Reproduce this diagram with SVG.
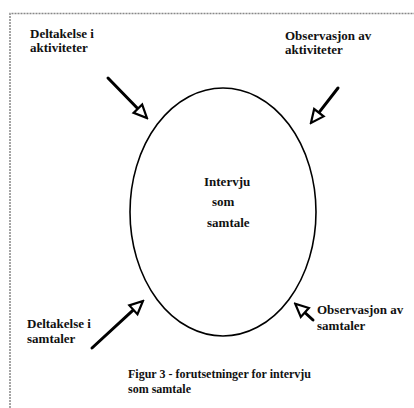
<svg xmlns="http://www.w3.org/2000/svg" width="414" height="408" viewBox="0 0 414 408">
<style>
.lbl{font-family:"Liberation Serif","Times New Roman",serif;font-weight:bold;font-size:13px;fill:#111}
.cap{font-family:"Liberation Serif","Times New Roman",serif;font-weight:bold;font-size:12px;fill:#111}
.arr{stroke:#000;stroke-width:3;fill:none;stroke-linecap:round;marker-end:url(#head)}
.frame{stroke:#888;stroke-width:1.5;fill:none;stroke-dasharray:2 1}
</style>
<defs>
<marker id="head" viewBox="-2 -8 17 16" refX="0" refY="0" markerWidth="17" markerHeight="16" markerUnits="userSpaceOnUse" orient="auto">
<path d="M0,-6 L13,0 L0,6 Z" fill="#fff" stroke="#000" stroke-width="2.2" stroke-linejoin="miter"/>
</marker>
</defs>
<rect width="414" height="408" fill="#fff"/>
<path class="frame" d="M10,408 L10,13.5 L414,13.5"/>
<g id="interview">
<ellipse cx="223" cy="212" rx="93" ry="124" fill="none" stroke="#000" stroke-width="1.6"/>
<text class="lbl" font-size="14" x="204" y="186">Intervju</text>
<text class="lbl" x="212" y="206">som</text>
<text class="lbl" x="207" y="227">samtale</text>
</g>
<g id="deltakelse-aktiviteter">
<text class="lbl" x="30" y="38">Deltakelse i</text>
<text class="lbl" x="30" y="52">aktiviteter</text>
</g>
<g id="observasjon-aktiviteter">
<text class="lbl" x="285" y="40">Observasjon av</text>
<text class="lbl" x="285" y="54">aktiviteter</text>
</g>
<g id="deltakelse-samtaler">
<text class="lbl" x="27" y="328">Deltakelse i</text>
<text class="lbl" x="27" y="343">samtaler</text>
</g>
<g id="observasjon-samtaler">
<text class="lbl" x="317" y="314">Observasjon av</text>
<text class="lbl" x="317" y="330">samtaler</text>
</g>
<g id="caption">
<text class="cap" x="128" y="378">Figur 3 - forutsetninger for intervju</text>
<text class="cap" x="128" y="393">som samtale</text>
</g>
<g id="connectors">
<line class="arr" x1="108" y1="78" x2="137.9" y2="108.7"/>
<line class="arr" x1="338" y1="88" x2="318.9" y2="112.7"/>
<line class="arr" x1="92" y1="348" x2="133.4" y2="309.8"/>
<line class="arr" x1="313" y1="320" x2="304.8" y2="312.5"/>
</g>
</svg>
